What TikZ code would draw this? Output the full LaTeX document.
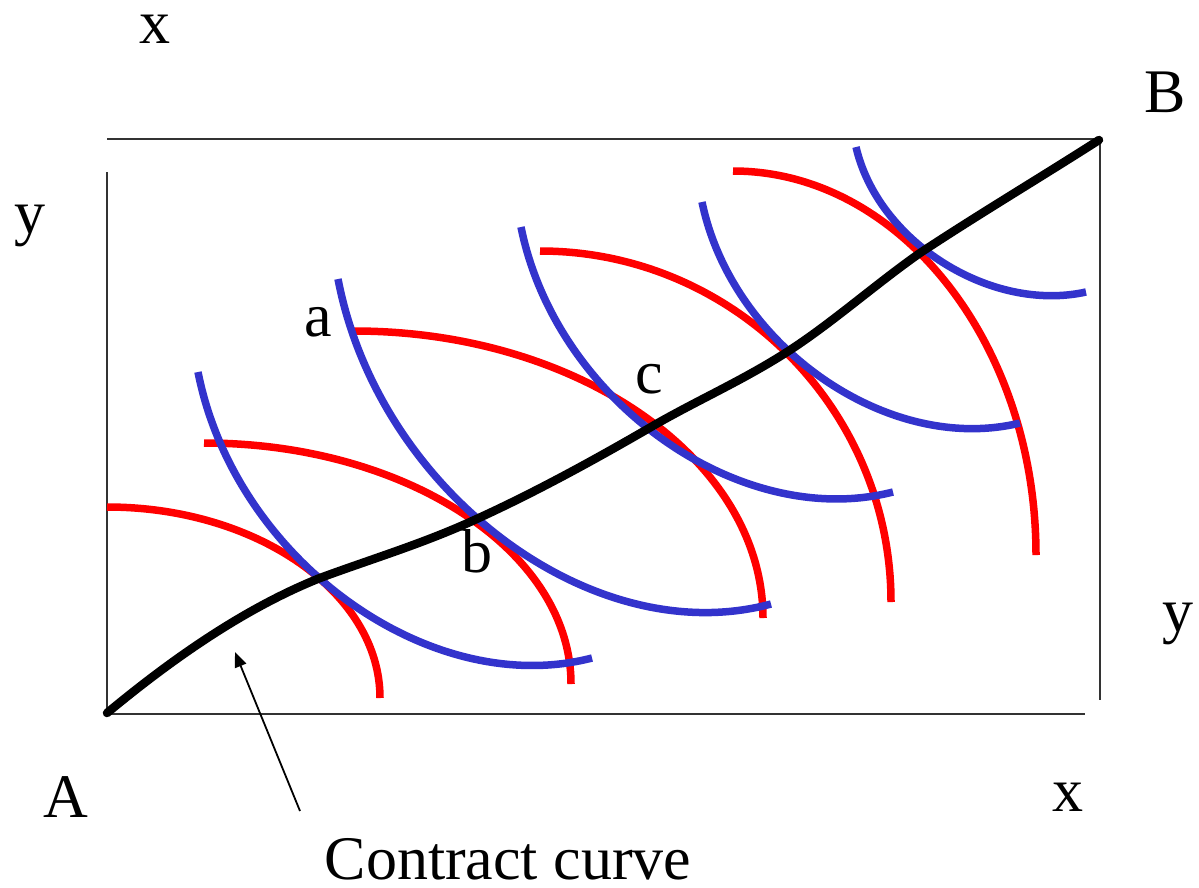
\documentclass[tikz,border=0pt]{standalone}
\usepackage{fontspec}
\setmainfont{Liberation Serif}
\usetikzlibrary{arrows.meta}
\definecolor{icred}{RGB}{255,0,0}
\definecolor{icblue}{RGB}{51,51,204}
\begin{document}
\begin{tikzpicture}[x=1pt,y=-1pt,
  axis/.style={line width=1.8pt,black!80},
  redic/.style={line width=7.5pt,icred},
  blueic/.style={line width=7.5pt,icblue},
  contract/.style={line width=8.5pt,black,line cap=round,line join=round},
  lbl/.style={inner sep=0pt,font=\fontsize{62}{70}\selectfont}]
\useasboundingbox (0,0) rectangle (1199,887);
% box
\coordinate (A0) at (107,714);
\coordinate (Bx) at (1085,714);
\coordinate (L0) at (107,172);
\coordinate (T0) at (107,139);
\coordinate (B0) at (1100,139);
\coordinate (R0) at (1100,700);
\draw[axis] (L0) -- (A0) -- (Bx);
\draw[axis] (T0) -- (B0) -- (R0);
% red curves
\draw[redic] (107,507) .. controls (257,507) and (380,593) .. (380,698);
\draw[redic] (204,443) .. controls (406,443) and (571,551) .. (571,684);
\draw[redic] (354,331) .. controls (579,331) and (763,460) .. (763,618);
\draw[redic] (540,251) .. controls (733,251) and (891,409) .. (891,602);
\draw[redic] (733,171) .. controls (900,171) and (1036,344) .. (1036,555);
% blue curves
\draw[blueic] (198,372) .. controls (235,560) and (430,700) .. (592,658);
\draw[blueic] (338,279) .. controls (379,492) and (593,652) .. (771,604);
\draw[blueic] (521,227) .. controls (556,401) and (740,531) .. (893,492);
\draw[blueic] (702,202) .. controls (732,347) and (889,455) .. (1020,423);
\draw[blueic] (856,147) .. controls (878,242) and (991,313) .. (1086,292);
% contract curve
\coordinate (P0) at (107,713);
\coordinate (P1) at (320,578);
\coordinate (P2) at (470,522);
\coordinate (P3) at (651,427);
\coordinate (P4) at (787,352);
\coordinate (P5) at (920,253);
\coordinate (P6) at (1099,140);
\draw[contract] (P0) .. controls (178,654) and (249,606.4) .. (P1)
  .. controls (370,559.5) and (420,544.5) .. (P2)
  .. controls (530.3,494.9) and (590.7,462) .. (P3)
  .. controls (696.3,400.7) and (741.7,381) .. (P4)
  .. controls (831.3,323.6) and (875.7,284) .. (P5)
  .. controls (979.7,213.6) and (1039.3,178.2) .. (P6);
% labels
\node[lbl] (xt) at (155,29) {x};
\node[lbl] (Bl) at (1165,92) {B};
\node[lbl] (yl) at (30,226) {y};
\node[lbl] (al) at (318,322) {a};
\node[lbl] (cl) at (649,379) {c};
\node[lbl] (bl) at (477,551) {b};
\node[lbl] (yr) at (1178,624) {y};
\node[lbl] (Al) at (66,797) {A};
\node[lbl] (xb) at (1068,797) {x};
\node[lbl] (cc) at (508,859) {Contract curve};
\coordinate (arrS) at (300,811);
\coordinate (arrE) at (235,652);
\draw[line width=1.8pt,-{Triangle[length=15pt,width=12pt]}] (arrS) -- (arrE);
\end{tikzpicture}
\end{document}
